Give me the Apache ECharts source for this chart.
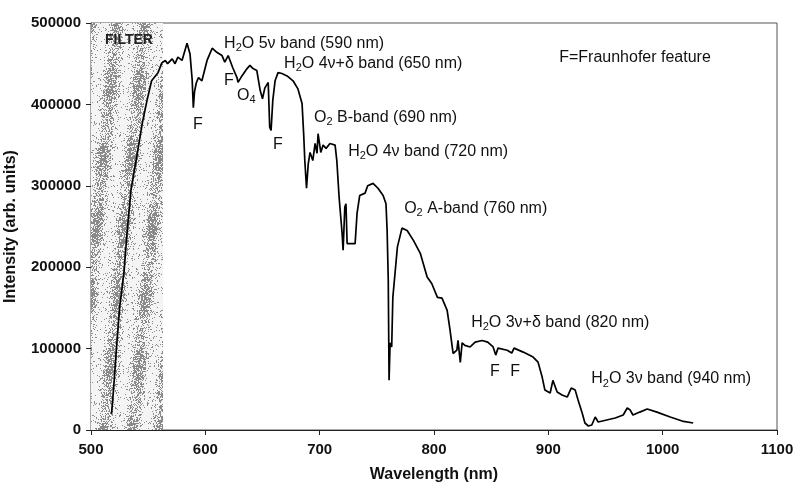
<!DOCTYPE html>
<html lang="en">

<head>
    <meta charset="UTF-8">
    <title>Spectrum</title>
    <style>
        body { margin: 0; background: #fff; }
    </style>
</head>

<body>
    <div id="main" style="width: 808px; height: 496px;"></div>

    <script src="https://cdn.jsdelivr.net/npm/echarts@6/dist/echarts.min.js"></script>
    <script>
        // 波长 (nm) 和 强度 (arb. units)
        var wavelength = [
            518, 520, 522, 525, 529, 531.5, 535, 541, 545, 549, 553, 558.6, 562, 565, 567, 571, 573.5, 576, 579.6,
            584, 586.6, 588.5, 589.5, 590.5, 592, 594, 597, 601.5, 606, 610, 614.6, 617, 620, 621.6, 624, 627.7,
            628.6, 632, 636.5, 639, 641.7, 645, 648, 650, 652, 655, 656.3, 657.5, 659, 661, 663.6, 667, 671.5,
            676.7, 681, 684.6, 686, 687, 688.5, 690, 691.6, 694, 696, 697.7, 698.6, 701, 703, 705.6, 709, 713.5,
            715, 717, 719.6, 720.5, 722, 723, 724, 726.6, 731, 732.7, 735, 739.7, 742, 746.7, 751, 755.5, 758,
            759, 760, 760.7, 761.6, 763, 764, 768, 772, 776.5, 782, 788, 794, 798, 803, 807, 811.5, 814, 816.7,
            820, 821, 823, 824.6, 827, 831.6, 836, 842, 847, 851.7, 854, 856, 864, 868, 870, 878, 886.7, 891,
            894.6, 897, 901.6, 904, 907.7, 912, 916.5, 920, 923.5, 926, 929.6, 932, 935, 938, 941, 943.6, 951,
            958.5, 965.5, 969, 971.6, 974, 980, 986.5, 995, 1006.6, 1017, 1026.7
        ];
        var intensity = [
            20000, 55000, 95000, 150000, 196000, 242000, 295000, 344000, 378000, 405000, 429000, 439000, 451000,
            454000, 450000, 456000, 450000, 458000, 454000, 475000, 462000, 430000, 396000, 415000, 426000,
            433000, 429000, 454000, 469000, 464000, 460000, 452000, 460000, 454000, 445000, 433000, 427000,
            435000, 444000, 448000, 444000, 441700, 417000, 407000, 420000, 427000, 372000, 368000, 405000,
            429000, 439000, 438000, 435000, 429000, 419000, 401000, 364000, 331000, 297000, 327000, 341000,
            331000, 352000, 340000, 364000, 341000, 350000, 346000, 352000, 350000, 331000, 286000, 242000,
            221000, 274000, 278000, 229000, 229000, 229000, 266000, 288000, 291000, 300000, 303000, 297000,
            288000, 278000, 245000, 184000, 61000, 107000, 102000, 163000, 225000, 248000, 245000, 233000,
            217000, 188000, 180000, 163000, 162000, 147000, 123000, 94000, 98000, 110000, 83000, 107000,
            104000, 102000, 108000, 110000, 108000, 102000, 92000, 100600, 98000, 94500, 100600, 95700, 89600,
            83400, 65000, 49000, 45400, 61000, 46600, 43000, 40500, 51500, 49000, 36800, 20900, 8600, 4900,
            6100, 16000, 9800, 12300, 14700, 18400, 27000, 24500, 18400, 22000, 25800, 22000, 16000, 11000, 8600
        ];
        var xTicks = [500, 1100, 100];
        var yTicks = [0, 500000, 100000];
        var filterRange = [500, 563];

        // 标注文字: [波长, 强度, 文本]
        var notes = [
            [616.4, 474900, '{n|H}{s|2}{n|O 5ν band (590 nm)}'],
            [668.9, 450300, '{n|H}{s|2}{n|O 4ν+δ band (650 nm)}'],
            [589.2, 375500, '{n|F}'],
            [616.4, 429500, '{n|F}'],
            [627.7, 411000, '{n|O}{s|4}'],
            [659.2, 351000, '{n|F}'],
            [695.1, 384000, '{n|O}{s|2}{n| B-band (690 nm)}'],
            [724.9, 342300, '{n|H}{s|2}{n|O 4ν band (720 nm)}'],
            [773.9, 272400, '{n|O}{s|2}{n| A-band (760 nm)}'],
            [832.5, 132500, '{n|H}{s|2}{n|O 3ν+δ band (820 nm)}'],
            [849, 71200, '{n|F}'],
            [866.6, 71200, '{n|F}'],
            [937.5, 62600, '{n|H}{s|2}{n|O 3ν band (940 nm)}'],
            [909.5, 457700, '{n|F=Fraunhofer feature}'],
            [512.2, 478500, '{b|FILTER}']
        ];

        // 滤光片区域的点状纹理（斜条纹）
        function filterPattern() {
            var c = document.createElement('canvas');
            c.width = 84; c.height = 280;
            var ctx = c.getContext('2d');
            ctx.fillStyle = '#f4f4f4';
            ctx.fillRect(0, 0, c.width, c.height);
            ctx.fillStyle = '#8a8a8a';
            for (var y = 0; y < c.height; y++) {
                for (var x = 0; x < c.width; x++) {
                    var band = 0.5 + 0.5 * Math.sin(2 * Math.PI * (x + y * 0.1) / 28);
                    band = band * (0.8 + 0.2 * Math.sin(2 * Math.PI * y / 70));
                    var h = Math.sin(x * 12.9898 + y * 78.233) * 43758.5453;
                    h = h - Math.floor(h);
                    if (h < 0.06 + 0.78 * Math.pow(band, 1.5)) ctx.fillRect(x, y, 1, 1);
                }
            }
            return c;
        }

        var myChart = echarts.init(document.getElementById('main'));
        var font = 'Liberation Sans, Arial, sans-serif';
        var data = wavelength.map(function (w, i) { return [w, intensity[i]]; });

        var option = {
            animation: false,
            grid: {
                left: 91, right: 31, top: 23, bottom: 66,
                outerBoundsMode: 'none',
                show: true, borderColor: '#555', borderWidth: 1
            },
            xAxis: {
                type: 'value',
                min: xTicks[0], max: xTicks[1], interval: xTicks[2],
                name: 'Wavelength (nm)',
                nameLocation: 'middle',
                nameGap: 37,
                nameTextStyle: { fontFamily: font, fontWeight: 'bold', fontSize: 16, color: '#111' },
                axisLine: { lineStyle: { color: '#222', width: 1 } },
                axisTick: { show: true, length: 5, lineStyle: { color: '#222' } },
                axisLabel: {
                    fontFamily: font, fontWeight: 'bold', fontSize: 15, color: '#111', margin: 12,
                    formatter: function (v) { return String(v); }
                },
                splitLine: { show: false }
            },
            yAxis: {
                type: 'value',
                min: yTicks[0], max: yTicks[1], interval: yTicks[2],
                name: 'Intensity (arb. units)',
                nameLocation: 'middle',
                nameGap: 72,
                nameTextStyle: { fontFamily: font, fontWeight: 'bold', fontSize: 16, color: '#111' },
                axisLine: { show: true, lineStyle: { color: '#222', width: 1 } },
                axisTick: { show: true, length: 5, lineStyle: { color: '#222' } },
                axisLabel: {
                    fontFamily: font, fontWeight: 'bold', fontSize: 15, color: '#111', margin: 10,
                    formatter: function (v) { return String(v); }
                },
                splitLine: { show: false }
            },
            series: [
                {
                    type: 'line',
                    data: data,
                    symbol: 'none',
                    lineStyle: { color: '#000', width: 1.7 },
                    markArea: {
                        silent: true,
                        itemStyle: { color: { image: filterPattern(), repeat: 'repeat' } },
                        data: [[{ xAxis: filterRange[0] }, { xAxis: filterRange[1] }]]
                    },
                    markPoint: {
                        silent: true,
                        symbol: 'circle',
                        symbolSize: 0,
                        itemStyle: { color: 'transparent' },
                        label: {
                            show: true,
                            position: 'inside',
                            align: 'left',
                            verticalAlign: 'middle',
                            formatter: function (p) { return p.name; },
                            rich: {
                                n: { fontFamily: font, fontSize: 16, color: '#111', lineHeight: 20 },
                                s: { fontFamily: font, fontSize: 11, color: '#111', lineHeight: 20, verticalAlign: 'bottom' },
                                b: { fontFamily: font, fontSize: 14, fontWeight: 'bold', color: '#222', lineHeight: 20 }
                            }
                        },
                        data: notes.map(function (n) { return { coord: [n[0], n[1]], name: n[2] }; })
                    }
                }
            ]
        };
        myChart.setOption(option);
    </script>
</body>

</html>
